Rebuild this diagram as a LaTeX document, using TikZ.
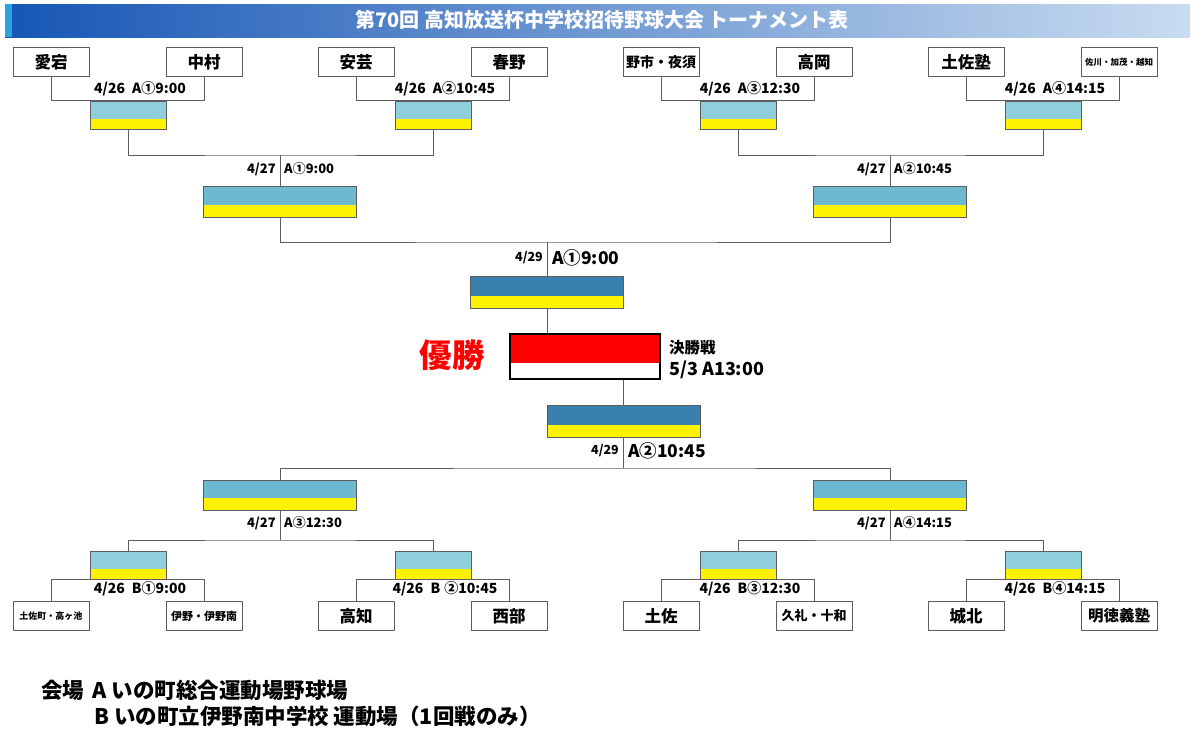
\documentclass[tikz,border=0pt]{standalone}
\usepackage{fontspec}
\setmainfont{Noto Sans CJK JP}
\usetikzlibrary{positioning}

\definecolor{linegray}{HTML}{5E5E5E}
\definecolor{paleblue}{HTML}{8FCFDD}
\definecolor{midblue}{HTML}{6CB8D1}
\definecolor{deepblue}{HTML}{3A80AF}
\definecolor{cupred}{HTML}{FF0000}
\definecolor{hdrdark}{HTML}{1756B5}
\definecolor{hdrmid}{HTML}{4E8AD3}
\definecolor{hdrlight}{HTML}{C9DCF0}
\definecolor{hdrcyan}{HTML}{2AA3E2}

\begin{document}
\begin{tikzpicture}[x=1pt, y=-1pt,
    link/.style={draw=linegray, line width=0.9pt},
    team/.style={draw=linegray, line width=0.9pt, fill=white, minimum width=76pt, minimum height=29pt, inner sep=0pt, font=\bfseries\fontsize{16.5}{16.5}\selectfont},
    teamfine/.style={team, font=\bfseries\fontsize{8.5}{8.5}\selectfont},
    slot/.style 2 args={draw=linegray, line width=0.9pt, fill=#1, inner sep=0pt,
        path picture={\fill[yellow] (path picture bounding box.south west) rectangle ([yshift=#2]path picture bounding box.south east);}},
    slotsmall/.style={minimum width=76pt, minimum height=28pt},
    slotwide/.style={minimum width=153pt, minimum height=31pt},
    when/.style={font=\bfseries\fontsize{14}{14}\selectfont, inner sep=1pt},
    whenmid/.style={font=\bfseries\fontsize{13}{13}\selectfont, inner sep=1pt},
    whenbig/.style={font=\bfseries\fontsize{17.5}{17.5}\selectfont, inner sep=1pt},
    whensmall/.style={font=\bfseries\fontsize{12.5}{12.5}\selectfont, inner sep=1pt},
    legend/.style={anchor=west, inner sep=0pt, font=\bfseries\fontsize{21.5}{21.5}\selectfont},
]
\fill[white] (0,0) rectangle (1200,729);
\useasboundingbox (0,0) rectangle (1200,729);

% header
\shade[left color=hdrdark, middle color=hdrmid, right color=hdrlight] (5,4) rectangle (1190,37);
\fill[hdrcyan] (5,4) rectangle (12,37);
\node[text=white, font=\bfseries\fontsize{20}{20}\selectfont] (title) at (602,20) {第70回 高知放送杯中学校招待野球大会 トーナメント表};

% teams, top half
\node[team] (atago) at (51,62) {愛宕};
\node[team] (nakamura) at (204,62) {中村};
\node[team] (aki) at (356,62) {安芸};
\node[team] (haruno) at (509,62) {春野};
\node[team, font=\bfseries\fontsize{14}{14}\selectfont] (noichi) at (661,62) {野市・夜須};
\node[team] (takaoka) at (814,62) {高岡};
\node[team] (tosajuku) at (966,62) {土佐塾};
\node[teamfine] (sakawa) at (1119,62) {佐川・加茂・越知};

% teams, bottom half
\node[teamfine, font=\bfseries\fontsize{9}{9}\selectfont] (tosacho) at (51,616) {土佐町・高ヶ池};
\node[team, font=\bfseries\fontsize{11}{11}\selectfont] (ino) at (204,616) {伊野・伊野南};
\node[team] (kochi) at (356,616) {高知};
\node[team] (seibu) at (509,616) {西部};
\node[team] (tosa) at (661,616) {土佐};
\node[team, font=\bfseries\fontsize{13}{13}\selectfont] (kure) at (814,616) {久礼・十和};
\node[team] (johoku) at (966,616) {城北};
\node[team, font=\bfseries\fontsize{15.5}{15.5}\selectfont] (meitoku) at (1119,616) {明徳義塾};

% first round winners
\node[slot={paleblue}{10pt}, slotsmall] (w1) at (128,115) {};
\node[slot={paleblue}{10pt}, slotsmall] (w2) at (433,115) {};
\node[slot={paleblue}{10pt}, slotsmall] (w3) at (738,115) {};
\node[slot={paleblue}{10pt}, slotsmall] (w4) at (1043,115) {};
\node[slot={paleblue}{10pt}, slotsmall] (w5) at (128,565) {};
\node[slot={paleblue}{10pt}, slotsmall] (w6) at (433,565) {};
\node[slot={paleblue}{10pt}, slotsmall] (w7) at (738,565) {};
\node[slot={paleblue}{10pt}, slotsmall] (w8) at (1043,565) {};

% second round winners
\node[slot={midblue}{12pt}, slotwide] (s1) at (280,201.5) {};
\node[slot={midblue}{12pt}, slotwide] (s2) at (890,201.5) {};
\node[slot={midblue}{12pt}, slotwide, minimum height=30pt] (s3) at (280,495) {};
\node[slot={midblue}{12pt}, slotwide, minimum height=30pt] (s4) at (890,495) {};

% semi finals and final
\node[slot={deepblue}{12pt}, slotwide, minimum height=32pt] (sf1) at (547,292) {};
\node[slot={deepblue}{12pt}, slotwide, minimum height=32pt] (sf2) at (623.5,421) {};
\node[draw=black, line width=2.2pt, fill=white, minimum width=150pt, minimum height=45pt, inner sep=0pt,
    path picture={\fill[cupred] (path picture bounding box.north west) rectangle ([yshift=-29pt]path picture bounding box.north east);}] (fin) at (585,356.5) {};

% first round brackets
\draw[link] (atago.south) |- (w1.north) -| (nakamura.south);
\draw[link] (aki.south) |- (w2.north) -| (haruno.south);
\draw[link] (noichi.south) |- (w3.north) -| (takaoka.south);
\draw[link] (tosajuku.south) |- (w4.north) -| (sakawa.south);
\draw[link] (tosacho.north) |- (w5.south) -| (ino.north);
\draw[link] (kochi.north) |- (w6.south) -| (seibu.north);
\draw[link] (tosa.north) |- (w7.south) -| (kure.north);
\draw[link] (johoku.north) |- (w8.south) -| (meitoku.north);

% second round brackets
\coordinate (j1) at (280,155);
\coordinate (j2) at (890,155);
\coordinate (j5) at (280,540);
\coordinate (j6) at (890,540);
\draw[link] (w1.south) |- (j1) -| (w2.south);
\draw[link] (j1) -- (s1.north);
\draw[link] (w3.south) |- (j2) -| (w4.south);
\draw[link] (j2) -- (s2.north);
\draw[link] (w5.north) |- (j5) -| (w6.north);
\draw[link] (j5) -- (s3.south);
\draw[link] (w7.north) |- (j6) -| (w8.north);
\draw[link] (j6) -- (s4.south);

% semi final brackets
\coordinate (j3) at (547,242);
\coordinate (j4) at (623.5,468);
\draw[link] (s1.south) |- (j3) -| (s2.south);
\draw[link] (j3) -- (sf1.north);
\draw[link] (s3.north) |- (j4) -| (s4.north);
\draw[link] (j4) -- (sf2.south);
\draw[link] (sf1.south) -- (sf1.south |- fin.north);
\draw[link] (sf2.north) -- (sf2.north |- fin.south);

% dates and times
\node[when] (d1) at (140,89) {4/26\hspace{0.5em}A①9:00};
\node[when] (d2) at (445,89) {4/26\hspace{0.5em}A②10:45};
\node[when] (d3) at (750,89) {4/26\hspace{0.5em}A③12:30};
\node[when] (d4) at (1055,89) {4/26\hspace{0.5em}A④14:15};
\node[when] (d5) at (140,589) {4/26\hspace{0.5em}B①9:00};
\node[when] (d6) at (445,589) {4/26\hspace{0.5em}B\hspace{0.3em}②10:45};
\node[when] (d7) at (750,589) {4/26\hspace{0.5em}B③12:30};
\node[when] (d8) at (1055,589) {4/26\hspace{0.5em}B④14:15};

\node[whenmid, anchor=east] (e1) at (277,169) {4/27};
\node[whenmid, anchor=west] (f1) at (283,169) {A①9:00};
\node[whenmid, anchor=east] (e2) at (887,169) {4/27};
\node[whenmid, anchor=west] (f2) at (893,169) {A②10:45};
\node[whenmid, anchor=east] (e3) at (277,523) {4/27};
\node[whenmid, anchor=west] (f3) at (283,523) {A③12:30};
\node[whenmid, anchor=east] (e4) at (887,523) {4/27};
\node[whenmid, anchor=west] (f4) at (893,523) {A④14:15};

\node[whensmall, anchor=east] (e5) at (544,258) {4/29};
\node[whenbig, anchor=west] (f5) at (551,258) {A①9:00};
\node[whensmall, anchor=east] (e6) at (620,451) {4/29};
\node[whenbig, anchor=west] (f6) at (627,451) {A②10:45};

% final
\node[text=cupred, font=\bfseries\fontsize{32.5}{32.5}\selectfont] (champ) at (452,355) {優勝};
\node[font=\bfseries\fontsize{15.5}{15.5}\selectfont, inner sep=1pt, anchor=west] (ftitle) at (668,348) {決勝戦};
\node[font=\bfseries\fontsize{18}{18}\selectfont, inner sep=1pt, anchor=west] (ftime) at (668,370) {5/3 A13:00};

% venues
\node[legend] (venuea) at (41,690) {会場\hspace{0.4em}A いの町総合運動場野球場};
\node[legend] (venueb) at (94,716) {B いの町立伊野南中学校 運動場（1回戦のみ）};
\end{tikzpicture}
\end{document}
